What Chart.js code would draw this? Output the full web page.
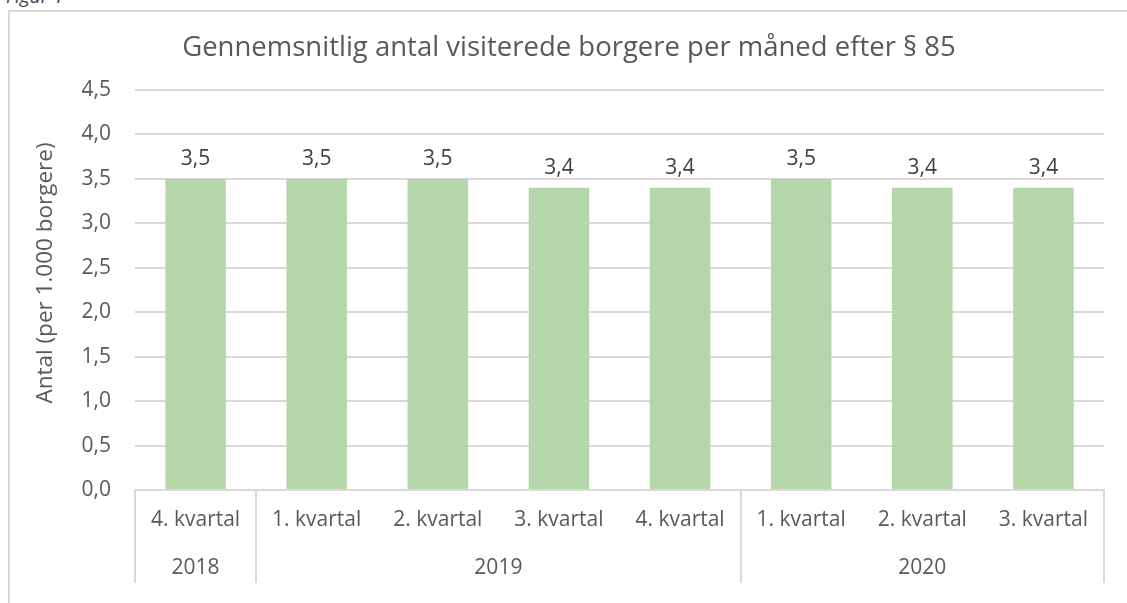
<!DOCTYPE html>
<html>
<head>
<meta charset="utf-8">
<script src="https://cdn.jsdelivr.net/npm/chart.js@4.4.1/dist/chart.umd.min.js"></script>
<style>
  html, body { margin: 0; padding: 0; background: #fff; overflow: hidden; }
  #wrap { position: relative; width: 1127px; height: 603px; }
  #frame { position: absolute; left: 8px; top: 10px; width: 1130px; height: 600px;
           border-top: 2px solid #d9d9d9; border-left: 2px solid #d9d9d9; }
  #fig { position: absolute; left: 6px; top: -17px; font: italic 19px "Open Sans", sans-serif; color: #404040; }
  canvas { position: absolute; left: 0; top: 0; }
</style>
</head>
<body>
<div id="wrap">
  <div id="fig">Figur 1</div>
  <div id="frame"></div>
  <canvas id="c" width="1127" height="603"></canvas>
</div>
<script>
const chartTitle = 'Gennemsnitlig antal visiterede borgere per måned efter § 85';
const yAxisTitle = 'Antal (per 1.000 borgere)';
const quarters = ['4. kvartal', '1. kvartal', '2. kvartal', '3. kvartal', '4. kvartal', '1. kvartal', '2. kvartal', '3. kvartal'];
const yearOfQuarter = ['2018', '2019', '2019', '2019', '2019', '2020', '2020', '2020'];
const values = [3.5, 3.5, 3.5, 3.4, 3.4, 3.5, 3.4, 3.4];
const yMin = 0, yMax = 4.5, yStep = 0.5;

const FONT = '"Open Sans", "Noto Sans", sans-serif';
const TXT = '#595959';
const GRID = '#d9d9d9';
const fmt = v => Number(v).toFixed(1).replace('.', ',');

const extrasPlugin = {
  id: 'extras',
  afterDraw(chart) {
    const ctx = chart.ctx;
    const x = chart.scales.x;
    const area = chart.chartArea;
    const bottom = x.bottom;
    ctx.save();
    ctx.fillStyle = TXT;
    ctx.textAlign = 'center';
    ctx.textBaseline = 'middle';
    // chart title
    ctx.font = '27.5px ' + FONT;
    ctx.fillText(chartTitle, 569, 48);
    // y axis title
    ctx.save();
    ctx.translate(46, 273);
    ctx.rotate(-Math.PI / 2);
    ctx.font = '22.5px ' + FONT;
    ctx.fillText(yAxisTitle, 0, 0);
    ctx.restore();
    // group boundaries
    const groups = [];
    yearOfQuarter.forEach((y, i) => {
      if (!groups.length || groups[groups.length - 1].year !== y) groups.push({year: y, start: i, end: i});
      else groups[groups.length - 1].end = i;
    });
    const edge = i => {
      if (i <= 0) return area.left;
      if (i >= quarters.length) return area.right;
      return (x.getPixelForValue(i - 1) + x.getPixelForValue(i)) / 2;
    };
    ctx.strokeStyle = GRID;
    ctx.lineWidth = 2;
    const bounds = new Set([0, quarters.length]);
    groups.forEach(g => { bounds.add(g.start); bounds.add(g.end + 1); });
    bounds.forEach(i => {
      const px = Math.round(edge(i));
      ctx.beginPath();
      ctx.moveTo(px, area.bottom);
      ctx.lineTo(px, bottom);
      ctx.stroke();
    });
    ctx.font = '21px ' + FONT;
    groups.forEach(g => {
      const cx = (edge(g.start) + edge(g.end + 1)) / 2;
      ctx.fillText(g.year, cx, area.bottom + 78);
    });
    // data labels
    const meta = chart.getDatasetMeta(0);
    ctx.fillStyle = '#404040';
    meta.data.forEach((bar, i) => {
      ctx.fillText(fmt(values[i]), bar.x, bar.y - 20);
    });
    ctx.restore();
  }
};

new Chart(document.getElementById('c'), {
  type: 'bar',
  data: {
    labels: quarters,
    datasets: [{
      data: values,
      backgroundColor: '#b5d6aa',
      borderWidth: 0,
      barPercentage: 0.5,
      categoryPercentage: 1.0
    }]
  },
  options: {
    responsive: false,
    animation: false,
    devicePixelRatio: 1,
    layout: { padding: { left: 0, right: 23, top: 90, bottom: 20 } },
    plugins: {
      legend: { display: false },
      tooltip: { enabled: false },
      title: { display: false }
    },
    scales: {
      x: {
        offset: true,
        grid: { display: false, drawTicks: false },
        border: { display: true, color: GRID, width: 2 },
        ticks: { color: TXT, font: { family: FONT, size: 21 }, padding: 17, maxRotation: 0, autoSkip: false },
        afterFit(scale) { scale.height = 93; }
      },
      y: {
        min: yMin,
        max: yMax,
        ticks: { stepSize: yStep, color: TXT, font: { family: FONT, size: 21 }, padding: 24, callback: v => fmt(v) },
        grid: { color: GRID, lineWidth: 2, drawTicks: false },
        border: { display: false },
        title: { display: false },
        afterFit(scale) { scale.width = 135; }
      }
    }
  },
  plugins: [extrasPlugin]
});
</script>
</body>
</html>
